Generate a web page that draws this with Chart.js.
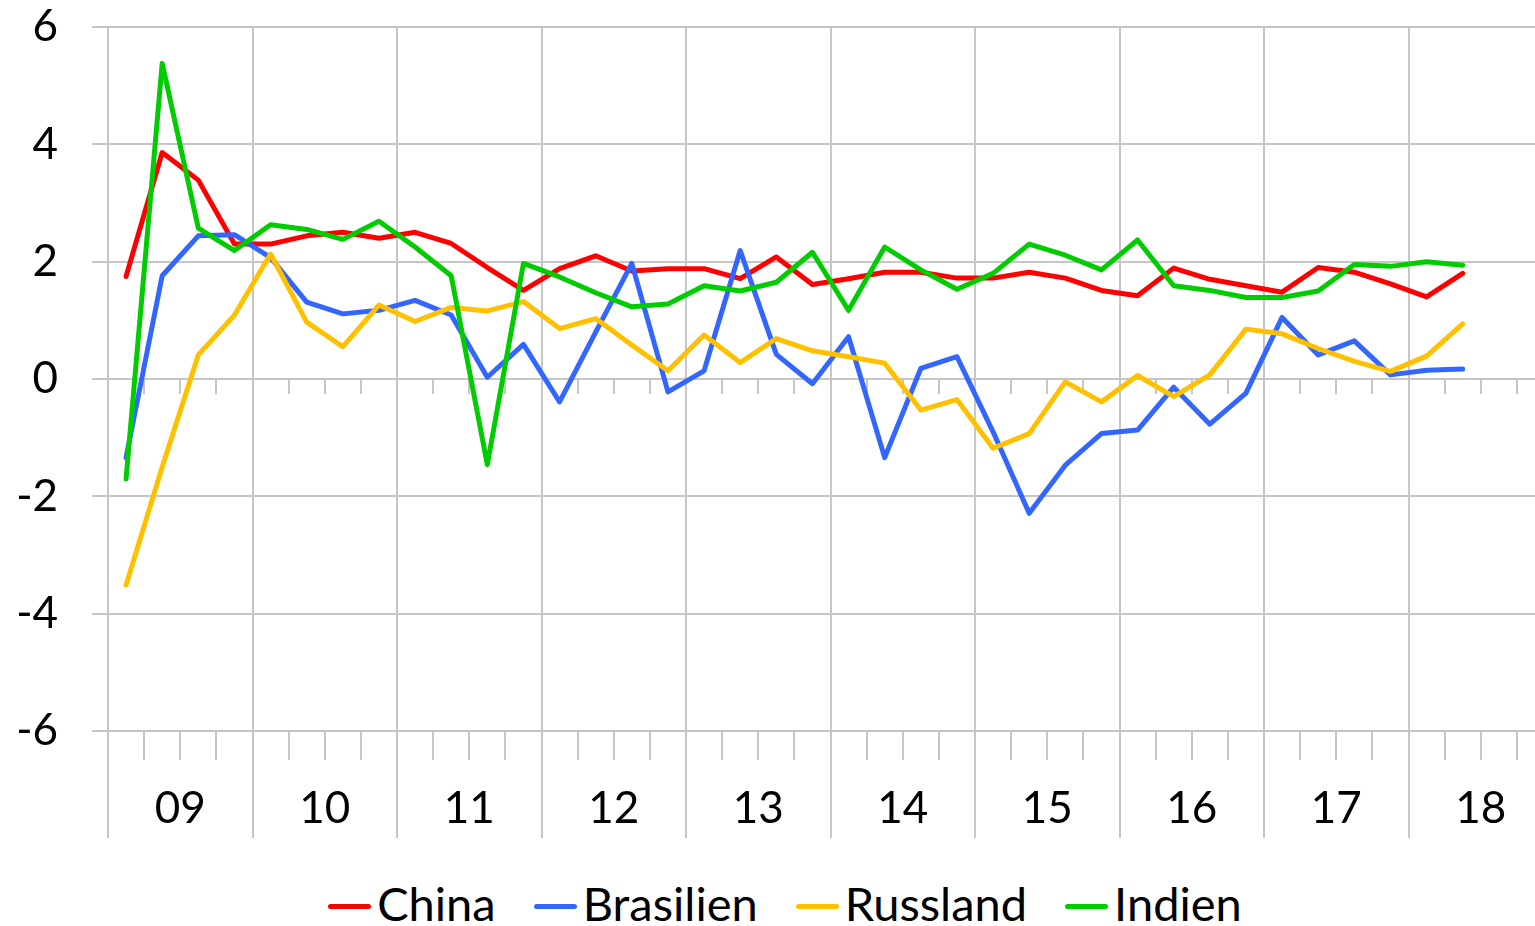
<!DOCTYPE html>
<html>
<head>
<meta charset="utf-8">
<script src="https://cdn.jsdelivr.net/npm/chart.js@4.4.1/dist/chart.umd.min.js"></script>
<style>
  html, body { margin: 0; padding: 0; background: #fff; overflow: hidden; }
  body { width: 1535px; height: 926px; position: relative; font-family: Lato, sans-serif; }
  #wrap { position: absolute; left: 0; top: 0; width: 1600px; height: 840px; }
  #legend { position: absolute; left: 0; top: 879px; width: 1570px; height: 48px; display: flex; justify-content: center; align-items: center; gap: 38px; font-size: 47px; line-height: 1; color: #000; }
  .item { display: flex; align-items: center; }
  .swatch { width: 43px; height: 5px; border-radius: 2.5px; margin-right: 6px; position: relative; top: 3px; }
</style>
</head>
<body>
<div id="wrap"><canvas id="chart" width="1600" height="840"></canvas></div>
<div id="legend"></div>
<script>
// Tick labels
const yearLabels = ['09', '10', '11', '12', '13', '14', '15', '16', '17', '18'];
const quarterLabels = yearLabels.flatMap(y => ['Q1', 'Q2', 'Q3', 'Q4'].map(q => q + ' ' + y));

// Quarterly values, 2009 Q1 - 2018 Q2
const china = [1.75, 3.86, 3.39, 2.30, 2.30, 2.44, 2.50, 2.40, 2.50, 2.31, 1.90, 1.51, 1.88, 2.10, 1.84, 1.88,
  1.88, 1.71, 2.08, 1.61, 1.71, 1.82, 1.82, 1.72, 1.72, 1.82, 1.72, 1.51, 1.42, 1.89, 1.70, 1.59,
  1.48, 1.90, 1.82, 1.62, 1.40, 1.80];
const brasilien = [-1.34, 1.76, 2.44, 2.46, 2.07, 1.31, 1.11, 1.17, 1.34, 1.09, 0.03, 0.59, -0.39, 0.80, 1.97, -0.22,
  0.14, 2.19, 0.42, -0.08, 0.72, -1.34, 0.18, 0.38, -0.90, -2.29, -1.47, -0.93, -0.87, -0.14, -0.77, -0.24,
  1.05, 0.41, 0.65, 0.07, 0.15, 0.17];
const russland = [-3.51, -1.50, 0.41, 1.09, 2.13, 0.97, 0.55, 1.26, 0.98, 1.22, 1.16, 1.32, 0.86, 1.03, 0.58, 0.14,
  0.75, 0.28, 0.69, 0.48, 0.38, 0.27, -0.53, -0.35, -1.18, -0.93, -0.05, -0.39, 0.06, -0.30, 0.07, 0.85,
  0.77, 0.52, 0.30, 0.13, 0.39, 0.94];
const indien = [-1.70, 5.38, 2.57, 2.19, 2.63, 2.55, 2.38, 2.69, 2.25, 1.76, -1.46, 1.97, 1.74, 1.47, 1.23, 1.28,
  1.59, 1.50, 1.65, 2.16, 1.17, 2.25, 1.86, 1.53, 1.80, 2.30, 2.11, 1.86, 2.37, 1.59, 1.51, 1.39,
  1.39, 1.50, 1.95, 1.92, 2.00, 1.94];

const seriesNames = ['China', 'Brasilien', 'Russland', 'Indien'];
const seriesColors = ['#FF0000', '#3366FF', '#FFC000', '#00CC00'];
const seriesData = [china, brasilien, russland, indien];

const gridColor = '#c6c6c6';

Chart.defaults.font.family = 'Lato, sans-serif';
Chart.defaults.font.size = 44;
Chart.defaults.color = '#000';

const chart = new Chart(document.getElementById('chart'), {
  type: 'line',
  data: {
    labels: quarterLabels,
    datasets: seriesNames.map((name, i) => ({
      label: name,
      data: seriesData[i],
      borderColor: seriesColors[i],
      backgroundColor: seriesColors[i],
      order: seriesNames.length - i, // later series drawn on top
    })),
  },
  options: {
    responsive: false,
    animation: false,
    layout: { padding: { top: 27, right: 47, bottom: 2, left: 0 } },
    plugins: {
      legend: { display: false },
      tooltip: { enabled: false },
    },
    elements: {
      point: { radius: 0 },
      line: { borderWidth: 5, tension: 0, borderCapStyle: 'round', borderJoinStyle: 'round' },
    },
    scales: {
      // quarter tick marks below the plot
      x: {
        type: 'category',
        position: 'bottom',
        weight: 0,
        offset: true,
        grid: { offset: true, drawOnChartArea: false, color: gridColor, lineWidth: 2, tickLength: 29 },
        border: { display: false },
        ticks: { display: false, autoSkip: false },
        afterFit: s => { s.height = 29; },
      },
      // year labels and separators
      years: {
        axis: 'x',
        type: 'category',
        labels: yearLabels,
        position: 'bottom',
        weight: 1,
        offset: true,
        grid: { offset: true, drawOnChartArea: true, color: gridColor, lineWidth: 2, tickLength: 78 },
        border: { display: false },
        ticks: { padding: -56, autoSkip: false, maxRotation: 0 },
        afterFit: s => { s.height = 78; s.paddingLeft = 0; s.paddingRight = 0; },
      },
      // quarter tick marks on the zero line
      zeroTicks: {
        axis: 'x',
        type: 'category',
        position: { y: 0 },
        offset: true,
        grid: { offset: true, drawOnChartArea: false, color: gridColor, lineWidth: 2, tickLength: 15 },
        border: { display: false },
        ticks: { display: false, autoSkip: false },
        afterFit: s => { s.height = 0; },
      },
      y: {
        min: -6,
        max: 6,
        ticks: { stepSize: 2, padding: 34 },
        grid: { color: gridColor, lineWidth: 2, tickLength: 16 },
        border: { display: true, color: gridColor, width: 2 },
        afterFit: s => { s.width = 108; s.paddingTop = 0; s.paddingBottom = 0; },
      },
    },
  },
});

// HTML legend built from the datasets
const legend = document.getElementById('legend');
chart.data.datasets.forEach(ds => {
  const item = document.createElement('div');
  item.className = 'item';
  const sw = document.createElement('span');
  sw.className = 'swatch';
  sw.style.background = ds.borderColor;
  const txt = document.createElement('span');
  txt.textContent = ds.label;
  item.appendChild(sw);
  item.appendChild(txt);
  legend.appendChild(item);
});
</script>
</body>
</html>
